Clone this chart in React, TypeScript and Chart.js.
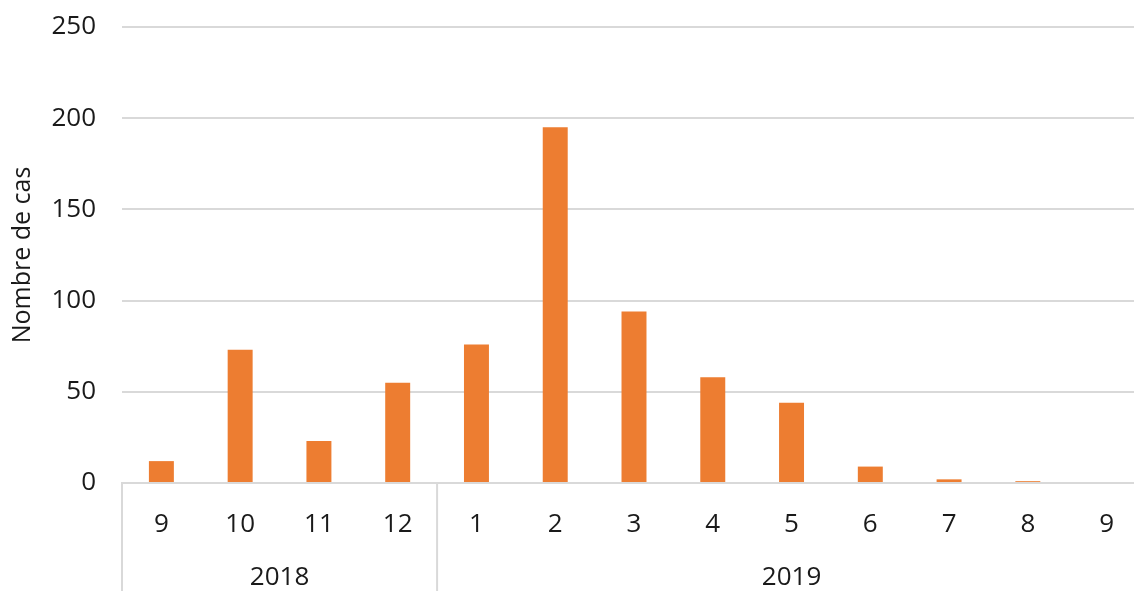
import React, { useEffect, useRef } from "react";
import { Chart, registerables } from "chart.js";

Chart.register(...registerables);

const months = ["9", "10", "11", "12", "1", "2", "3", "4", "5", "6", "7", "8", "9"];
const cases = [12, 73, 23, 55, 76, 195, 94, 58, 44, 9, 2, 1, 0];
const years = ["2018", "2019"];
const yearCounts = [4, 9];
const yTicks = [0, 50, 100, 150, 200, 250];

const FONT = "'Open Sans', sans-serif";
const GRID = "#d9d9d9";
const TEXT = "#1a1a1a";

const yearPlugin = {
  id: "yearGroups",
  afterDraw(chart: any) {
    const ctx = chart.ctx;
    const xs = chart.scales.x;
    const area = chart.chartArea;
    const n = months.length;
    const w = (xs.right - xs.left) / n;
    ctx.save();
    ctx.strokeStyle = GRID;
    ctx.lineWidth = 2;
    ctx.fillStyle = TEXT;
    ctx.font = `26px ${FONT}`;
    ctx.textAlign = "center";
    ctx.textBaseline = "middle";
    let start = 0;
    years.forEach((y, i) => {
      const x0 = xs.getPixelForValue(start) - w / 2;
      const x1 = xs.getPixelForValue(start + yearCounts[i] - 1) + w / 2;
      ctx.beginPath();
      ctx.moveTo(x0, area.bottom);
      ctx.lineTo(x0, chart.height);
      ctx.stroke();
      ctx.fillText(y, (x0 + x1) / 2, 578);
      start += yearCounts[i];
    });
    ctx.restore();
  },
};

export default function App() {
  const ref = useRef<HTMLCanvasElement>(null);
  useEffect(() => {
    document.body.style.margin = "0";
    const chart = new Chart(ref.current!, {
      type: "bar",
      data: {
        labels: months,
        datasets: [
          {
            data: cases,
            backgroundColor: "#ED7D31",
            categoryPercentage: 1,
            barPercentage: 0.317,
          },
        ],
      },
      options: {
        animation: false,
        responsive: false,
        maintainAspectRatio: false,
        layout: { padding: { top: 27, right: 0, left: 0, bottom: 0 } },
        plugins: { legend: { display: false }, tooltip: { enabled: false } },
        scales: {
          x: {
            grid: { display: false },
            border: { display: true, color: GRID, width: 2 },
            ticks: {
              color: TEXT,
              font: { family: FONT, size: 26 },
              padding: 18,
              maxRotation: 0,
            },
            afterFit(scale: any) {
              scale.height = 108;
            },
          },
          y: {
            min: 0,
            max: 250,
            afterBuildTicks(scale: any) {
              scale.ticks = yTicks.map((v) => ({ value: v }));
            },
            grid: { color: GRID, lineWidth: 2, drawTicks: false },
            border: { display: false },
            ticks: {
              color: TEXT,
              font: { family: FONT, size: 26 },
              padding: 26,
            },
            title: {
              display: true,
              text: "Nombre de cas",
              color: TEXT,
              font: { family: FONT, size: 25 },
              padding: { top: 8, bottom: 0 },
            },
            afterFit(scale: any) {
              scale.width = 122;
              scale.paddingTop = 0;
              scale.paddingBottom = 0;
            },
          },
        },
      },
      plugins: [yearPlugin],
    });
    return () => chart.destroy();
  }, []);
  return (
    <div style={{ width: 1134, height: 591, overflow: "hidden" }}>
      <canvas ref={ref} width={1146} height={591} style={{ display: "block" }} />
    </div>
  );
}
